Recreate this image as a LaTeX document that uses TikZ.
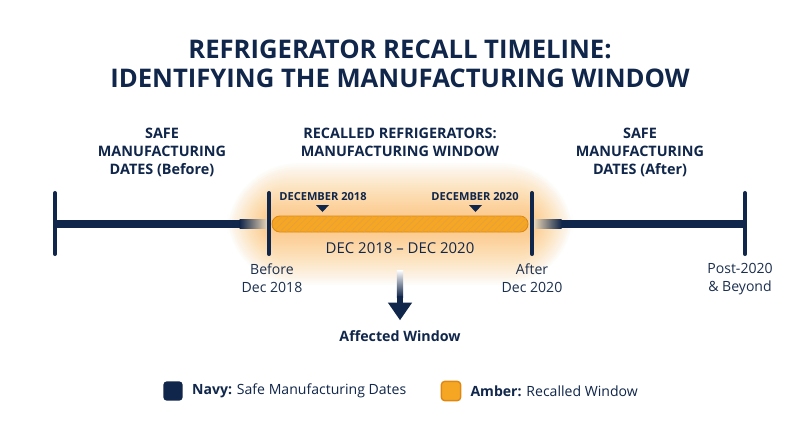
\documentclass[tikz,border=0pt]{standalone}
\usepackage{fontspec}
\setmainfont{Open Sans}
\usetikzlibrary{arrows.meta,positioning,patterns.meta}
\definecolor{Navy}{RGB}{16,38,74}
\definecolor{Amber}{RGB}{245,166,35}
\definecolor{AmberDark}{RGB}{222,136,18}
\definecolor{GlowAmber}{RGB}{252,172,50}
\tikzset{
  title/.style={font=\bfseries\fontsize{14.6}{16.6}\selectfont, text=Navy, align=center},
  heading/.style={font=\bfseries\fontsize{8.2}{10.2}\selectfont, text=Navy, align=center, anchor=north, inner sep=0pt},
  datetag/.style={font=\bfseries\fontsize{6.3}{7.5}\selectfont, text=Navy, inner sep=0pt},
  ticklabel/.style={font=\fontsize{8}{10.2}\selectfont, text=Navy!90!gray, align=center, anchor=north, inner sep=0pt},
  rangelabel/.style={font=\fontsize{8.5}{10}\selectfont, text=Navy, inner sep=0pt},
  baseline/.style={line width=4.6pt, Navy},
  tick/.style={line width=2.3pt, Navy, line cap=round},
  recall/.style={fill=Amber, draw=AmberDark, line width=0.5pt, rounded corners=4.5pt},
  swatch/.style={rounded corners=2pt, minimum size=11pt, inner sep=0pt},
  legendtext/.style={font=\fontsize{8}{10}\selectfont, text=Navy, anchor=west, inner sep=0pt},
  pointer/.style={-{Triangle[width=13pt,length=10pt]}, line width=3.6pt, Navy}
}
\begin{document}
\begin{tikzpicture}[x=0.02cm, y=-0.02cm]
\useasboundingbox[fill=white] (0,0) rectangle (800,447);

% glow behind the recalled window
\foreach \i in {1,...,24}
  \fill[GlowAmber, opacity=0.028, rounded corners=\i*1.6pt+2pt]
    (268-\i*1.7,216-\i*2.2) rectangle (532+\i*1.7,232+\i*2.2);

\node[title] (title) at (400,63.5) {REFRIGERATOR RECALL TIMELINE:\\IDENTIFYING THE MANUFACTURING WINDOW};

\node[heading] (before) at (162,128) {SAFE\\MANUFACTURING\\DATES (Before)};
\node[heading] (window) at (400,128) {RECALLED REFRIGERATORS:\\MANUFACTURING WINDOW};
\node[heading] (after) at (640,128) {SAFE\\MANUFACTURING\\DATES (After)};

\draw[baseline] (55,224) -- (240,224);
\draw[baseline] (561,224) -- (745,224);
\shade[left color=Navy, right color=Navy!15!GlowAmber!35] (239.5,219.95) rectangle (268,228.05);
\shade[left color=Navy!15!GlowAmber!35, right color=Navy] (533,219.95) rectangle (561.5,228.05);

\coordinate (t1) at (55,224);
\coordinate (t2) at (269,224);
\coordinate (t3) at (532,224);
\coordinate (t4) at (745,224);
\foreach \t in {t1,t2,t3,t4}
  \draw[tick] ([yshift=0.62cm]\t) -- ([yshift=-0.6cm]\t);

\path[recall] (272,216) rectangle (528,232);
\path[pattern={Lines[angle=45,distance=2.6pt,line width=0.35pt]}, pattern color=AmberDark!80,
  rounded corners=4.5pt] (272,216) rectangle (528,232);

\node[datetag] (dec18) at (323,197) {DECEMBER 2018};
\node[datetag] (dec20) at (475,197) {DECEMBER 2020};
\fill[Navy] (316,205) -- (329,205) -- (322.5,212) -- cycle;
\fill[Navy] (469,205) -- (482,205) -- (475.5,212) -- cycle;

\node[rangelabel] (range) at (400,248) {DEC 2018 -- DEC 2020};

\node[ticklabel] (l1) at (272,263) {Before\\Dec 2018};
\node[ticklabel] (l2) at (532,263) {After\\Dec 2020};
\node[ticklabel] (l3) at (740,263) {Post-2020\\\& Beyond};

\node[font=\bfseries\fontsize{8.1}{10}\selectfont, text=Navy] (affected) at (400,336) {Affected Window};
\shade[top color=white, bottom color=Navy] (396.8,270) rectangle (403.2,297);
\coordinate (shaft) at (400,296);
\draw[pointer] (shaft) -- ([yshift=0.08cm]affected.north);

\node[swatch, fill=Navy] (navybox) at (173,391) {};
\node[legendtext, right=5pt of navybox] (navytext) {\textbf{Navy:} Safe Manufacturing Dates};
\node[swatch, fill=Amber, draw=AmberDark, line width=0.8pt] (amberbox) at (451,391) {};
\node[legendtext, right=5pt of amberbox] (ambertext) {\textbf{Amber:} Recalled Window};
\end{tikzpicture}
\end{document}
